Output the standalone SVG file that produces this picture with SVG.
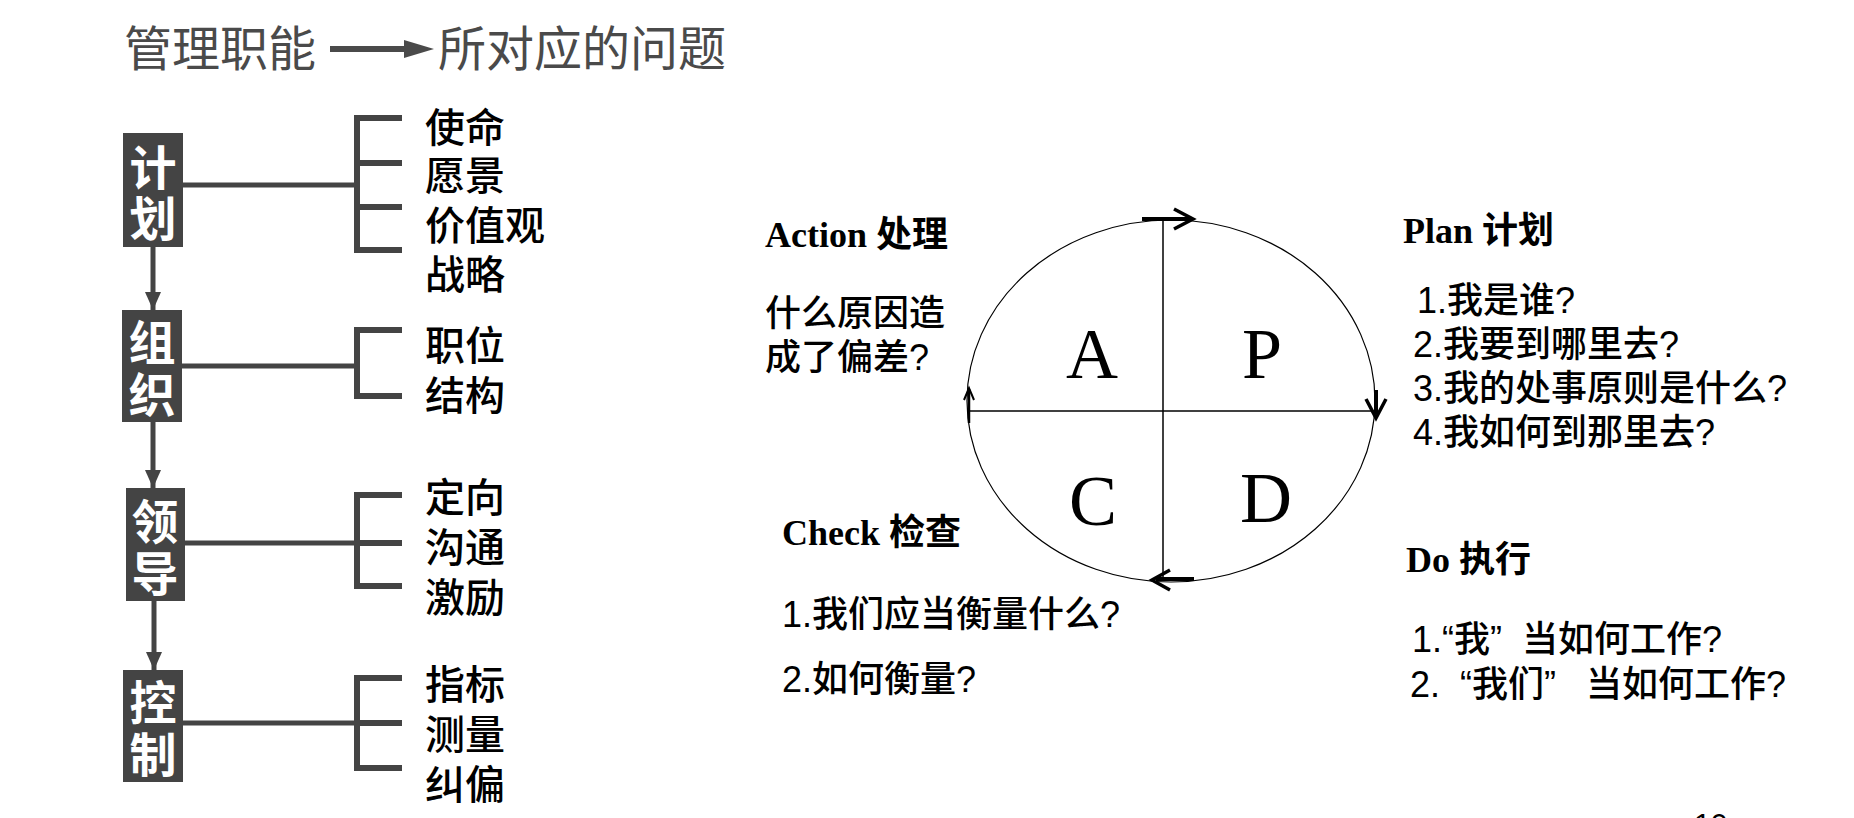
<svg xmlns="http://www.w3.org/2000/svg" width="1854" height="818" viewBox="0 0 1854 818">
<style>
.title{font-family:"Liberation Sans","Noto Sans CJK SC",sans-serif;font-size:48px;fill:#4a4a4a}
.box{fill:#444}
.boxt{font-family:"Liberation Sans","Noto Sans CJK SC",sans-serif;font-size:47px;font-weight:bold;fill:#fff;text-anchor:middle}
.item{font-family:"Liberation Sans","Noto Sans CJK SC",sans-serif;font-size:40px;font-weight:500;fill:#000}
.ln{stroke:#444;fill:none}
.head{font-family:"Liberation Serif","Noto Sans CJK SC",serif;font-size:36px;font-weight:bold;fill:#000}
.body{font-family:"Liberation Sans","Noto Sans CJK SC",sans-serif;font-size:36px;font-weight:500;fill:#000}
.big{font-family:"Liberation Serif",serif;font-size:72px;fill:#000}
.arr{stroke:#000;fill:none;stroke-linecap:butt}
</style>
<defs>
<marker id="tri" markerUnits="userSpaceOnUse" markerWidth="18" markerHeight="24" refX="18" refY="12" orient="auto">
<path d="M0,4 L18,12 L0,20 Z" fill="#444"/>
</marker>
</defs>
<rect width="1854" height="818" fill="#fff"/>

<g id="title">
<text class="title" x="124" y="66">管理职能</text>
<line x1="330" y1="49" x2="410" y2="49" stroke="#4a4a4a" stroke-width="6"/>
<polygon points="404,40 434,49 404,58" fill="#4a4a4a"/>
<text class="title" x="438" y="66">所对应的问题</text>
</g>

<g id="connectors">
<line class="ln" x1="153" y1="247" x2="153" y2="310" stroke-width="5" marker-end="url(#tri)"/>
<line class="ln" x1="153" y1="422" x2="153" y2="488" stroke-width="5" marker-end="url(#tri)"/>
<line class="ln" x1="154" y1="601" x2="154" y2="670" stroke-width="5" marker-end="url(#tri)"/>
<line class="ln" x1="183" y1="185" x2="357" y2="185" stroke-width="5"/>
<line class="ln" x1="182" y1="366" x2="357" y2="366" stroke-width="5"/>
<line class="ln" x1="185" y1="543" x2="357" y2="543" stroke-width="5"/>
<line class="ln" x1="183" y1="723" x2="357" y2="723" stroke-width="5"/>
<path class="ln" stroke-width="6" d="M402,118 H357 V250 H402 M357,163 H402 M357,207 H402"/>
<path class="ln" stroke-width="6" d="M402,330 H357 V396 H402"/>
<path class="ln" stroke-width="6" d="M402,495 H357 V586 H402 M357,543 H402"/>
<path class="ln" stroke-width="6" d="M402,678 H357 V768 H402 M357,723 H402"/>
<!-- PDCA cycle arrows -->
<line class="arr" x1="1142" y1="219" x2="1190" y2="219" stroke-width="4"/>
<path class="arr" d="M1174,209 L1193,219 L1174,229" stroke-width="3.5"/>
<line class="arr" x1="1376" y1="390" x2="1376" y2="414" stroke-width="4"/>
<path class="arr" d="M1366,399 L1376,418 L1386,399" stroke-width="3.5"/>
<line class="arr" x1="1194" y1="579" x2="1156" y2="579" stroke-width="4"/>
<path class="arr" d="M1170,570 L1152,580 L1170,590" stroke-width="3.5"/>
<line class="arr" x1="969" y1="423" x2="969" y2="389" stroke-width="2.5"/>
<path class="arr" d="M964,400 L969,388 L974,400" stroke-width="2"/>
</g>

<g id="node-plan">
<rect class="box" x="123" y="133" width="60" height="114"/>
<text class="boxt" x="153" y="185">计</text>
<text class="boxt" x="153" y="236">划</text>
</g>
<g id="node-organize">
<rect class="box" x="122" y="310" width="60" height="112"/>
<text class="boxt" x="152" y="360">组</text>
<text class="boxt" x="152" y="412">织</text>
</g>
<g id="node-lead">
<rect class="box" x="126" y="488" width="59" height="113"/>
<text class="boxt" x="155" y="539">领</text>
<text class="boxt" x="155" y="591">导</text>
</g>
<g id="node-control">
<rect class="box" x="123" y="670" width="60" height="112"/>
<text class="boxt" x="153" y="720">控</text>
<text class="boxt" x="153" y="772">制</text>
</g>

<g id="items-plan">
<text class="item" x="425" y="142">使命</text>
<text class="item" x="425" y="190">愿景</text>
<text class="item" x="425" y="240">价值观</text>
<text class="item" x="425" y="289">战略</text>
</g>
<g id="items-organize">
<text class="item" x="425" y="360">职位</text>
<text class="item" x="425" y="410">结构</text>
</g>
<g id="items-lead">
<text class="item" x="425" y="512">定向</text>
<text class="item" x="425" y="562">沟通</text>
<text class="item" x="425" y="612">激励</text>
</g>
<g id="items-control">
<text class="item" x="425" y="699">指标</text>
<text class="item" x="425" y="749">测量</text>
<text class="item" x="425" y="799">纠偏</text>
</g>

<g id="pdca-circle">
<ellipse cx="1171" cy="401" rx="204" ry="181" fill="none" stroke="#000" stroke-width="1.2"/>
<line x1="1163" y1="220" x2="1163" y2="577" stroke="#000" stroke-width="1.5"/>
<line x1="967" y1="411" x2="1376" y2="411" stroke="#000" stroke-width="1.5"/>
<text class="big" x="1066" y="378">A</text>
<text class="big" x="1242" y="378">P</text>
<text class="big" x="1069" y="525">C</text>
<text class="big" x="1240" y="522">D</text>
</g>

<g id="action">
<text class="head" x="765" y="247">Action 处理</text>
<text class="body" x="765" y="326">什么原因造</text>
<text class="body" x="765" y="370">成了偏差?</text>
</g>
<g id="plan">
<text class="head" x="1403" y="243">Plan 计划</text>
<text class="body" x="1417" y="313">1.我是谁?</text>
<text class="body" x="1413" y="357">2.我要到哪里去?</text>
<text class="body" x="1413" y="401">3.我的处事原则是什么?</text>
<text class="body" x="1413" y="445">4.我如何到那里去?</text>
</g>
<g id="check">
<text class="head" x="782" y="545">Check 检查</text>
<text class="body" x="782" y="627">1.我们应当衡量什么?</text>
<text class="body" x="782" y="692">2.如何衡量?</text>
</g>
<g id="do">
<text class="head" x="1406" y="572">Do 执行</text>
<text class="body" x="1412" y="652" xml:space="preserve">1.“我”  当如何工作?</text>
<text class="body" x="1410" y="697" xml:space="preserve">2.  “我们”   当如何工作?</text>
</g>
<text x="1694" y="834" font-family="Liberation Sans, sans-serif" font-size="30" fill="#000">10</text>
</svg>
